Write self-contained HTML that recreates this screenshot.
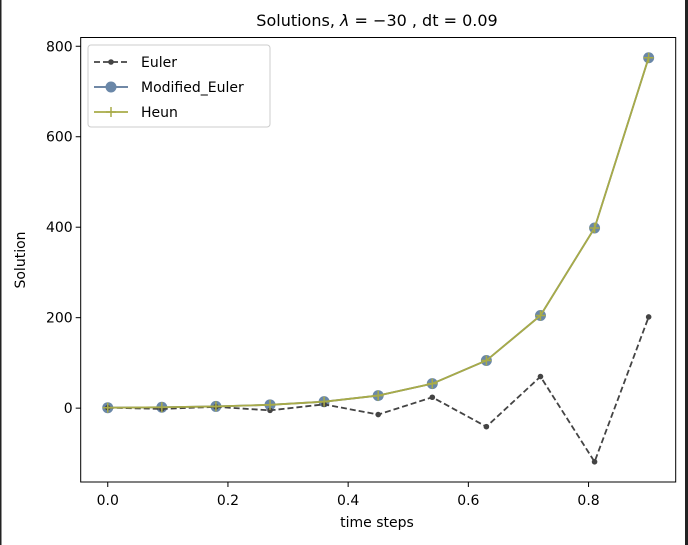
<!DOCTYPE html>
<html><head><meta charset="utf-8"><style>
html,body{margin:0;padding:0;background:#fff;}
svg{display:block;font-family:"DejaVu Sans","Liberation Sans",sans-serif;}
</style></head><body>
<svg id="chart" width="688" height="545" viewBox="0 0 688 545">
<rect x="0" y="0" width="688" height="545" fill="#fff"/>
<rect x="0" y="0" width="1.5" height="545" fill="#222"/>
<rect x="685" y="0" width="3" height="545" fill="#222"/>
<text x="377" y="26" font-size="16" text-anchor="middle" fill="#000">Solutions, <tspan font-style="italic">λ</tspan> = −30 , dt = 0.09</text>
<g id="plot"></g>
<text x="377" y="527" font-size="14" text-anchor="middle">time steps</text>
<text transform="translate(25,260) rotate(-90)" font-size="14" text-anchor="middle">Solution</text>
</svg>
<script>
const times=[0,0.09,0.18,0.27,0.36,0.45,0.54,0.63,0.72,0.81,0.90];
const euler=[1,-1.7,2.89,-4.91,8.35,-14.2,24.1,-41.0,69.8,-118.6,201.6];
const modEuler=[1,1.945,3.78,7.36,14.3,27.8,54.1,105.3,204.8,398.3,774.7];
const heun=[1,1.945,3.78,7.36,14.3,27.8,54.1,105.3,204.8,398.3,774.7];
const xTicks=[0,0.2,0.4,0.6,0.8];
const xTickLabels=["0.0","0.2","0.4","0.6","0.8"];
const yTicks=[0,200,400,600,800];
const yTickLabels=["0","200","400","600","800"];

const NS="http://www.w3.org/2000/svg";
const L=80.7,R=675.7,T=37.5,B=482;
const all=euler.concat(modEuler,heun);
const ymn=Math.min(...all),ymx=Math.max(...all),yp=(ymx-ymn)*0.05;
const xmn=Math.min(...times),xmx=Math.max(...times),xp=(xmx-xmn)*0.05;
const sx=v=>L+(v-(xmn-xp))/((xmx+xp)-(xmn-xp))*(R-L);
const sy=v=>B-(v-(ymn-yp))/((ymx+yp)-(ymn-yp))*(B-T);
const g=document.getElementById('plot');
function mk(t,a,p){const e=document.createElementNS(NS,t);for(const k in a)e.setAttribute(k,a[k]);(p||g).appendChild(e);return e;}

xTicks.forEach((v,i)=>{
 const l=mk('line',{x1:sx(v),x2:sx(v),y1:B,y2:B+5,stroke:'#000','stroke-width':1});
 
 
 const t=mk('text',{x:sx(v),y:B+23,'font-size':14,'text-anchor':'middle'});
 t.textContent=xTickLabels[i];
 
 
});
yTicks.forEach((v,i)=>{
 const l=mk('line',{x1:L-5,x2:L,y1:sy(v),y2:sy(v),stroke:'#000','stroke-width':1});
 
 
 const t=mk('text',{x:L-8,y:sy(v)+5,'font-size':14,'text-anchor':'end'});
 t.textContent=yTickLabels[i];
 
 
});

function pts(arr){return times.map((t,i)=>sx(t)+','+sy(arr[i])).join(' ');}
const mel=mk('polyline',{points:pts(modEuler),fill:'none',stroke:'#5b7799','stroke-width':1.8});


modEuler.forEach((v,i)=>{
 const c=mk('circle',{cx:sx(times[i]),cy:sy(v),r:5.5,fill:'#6a87a8'});
 
 
});
const el=mk('polyline',{points:pts(euler),fill:'none',stroke:'#444','stroke-width':1.8,'stroke-dasharray':'6,3'});


euler.forEach((v,i)=>{
 const c=mk('circle',{cx:sx(times[i]),cy:sy(v),r:2.8,fill:'#444'});
 
 
});
const hl=mk('polyline',{points:pts(heun),fill:'none',stroke:'#a8ab48','stroke-width':1.8});


heun.forEach((v,i)=>{
 const x=sx(times[i]),y=sy(v);
 const p=mk('path',{d:`M${x-5},${y}H${x+5}M${x},${y-5}V${y+5}`,stroke:'#a8ab48','stroke-width':1.5});
 
 
});
const fr=mk('rect',{x:L,y:T,width:R-L,height:B-T,fill:'none',stroke:'#000','stroke-width':1});



const lg=mk('g',{});


mk('rect',{x:88,y:45,width:182,height:82,rx:3,fill:'#fff','fill-opacity':0.85,stroke:'#ccc'},lg);
const ents=[["Euler",'#444','6,3','dot'],["Modified_Euler",'#5b7799','','circle'],["Heun",'#a8ab48','','plus']];
ents.forEach((e,i)=>{
 const y=62+i*25;
 const eg=mk('g',{},lg);
 
 
 mk('line',{x1:94,x2:128,y1:y,y2:y,stroke:e[1],'stroke-width':1.8,'stroke-dasharray':e[2]||'none'},eg);
 if(e[3]==='dot')mk('circle',{cx:111,cy:y,r:2.8,fill:'#444'},eg);
 if(e[3]==='circle')mk('circle',{cx:111,cy:y,r:5.5,fill:'#6a87a8'},eg);
 if(e[3]==='plus')mk('path',{d:`M106,${y}H116M111,${y-5}V${y+5}`,stroke:e[1],'stroke-width':1.5},eg);
 const t=mk('text',{x:141,y:y+5,'font-size':14},eg);
 t.textContent=e[0];
});
</script>
</body></html>
